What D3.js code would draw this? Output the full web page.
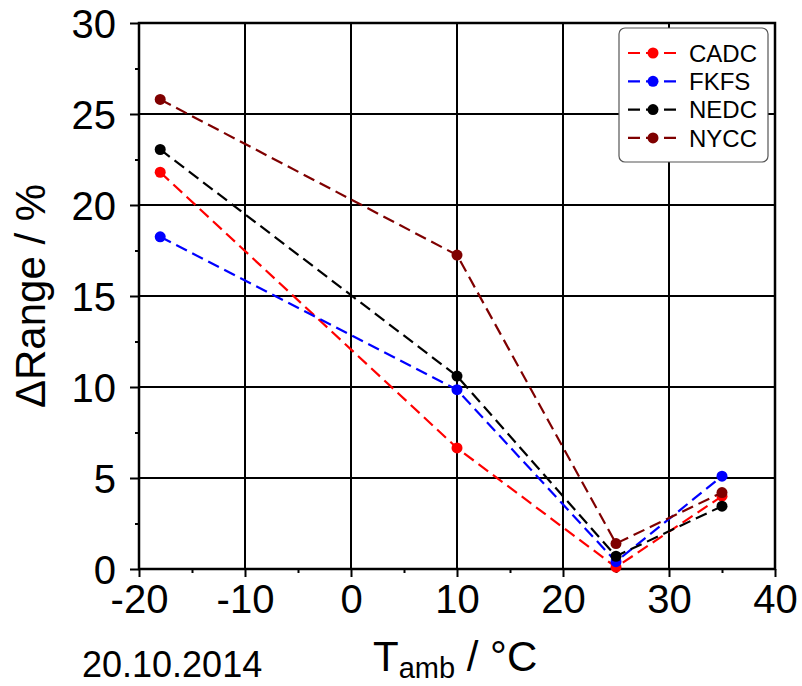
<!DOCTYPE html>
<html>
<head>
<meta charset="utf-8">
<script src="https://cdn.jsdelivr.net/npm/d3@7"></script>
<style>
  html, body { margin: 0; padding: 0; background: #fff; }
  svg { display: block; font-family: "Liberation Sans", Arial, sans-serif; }
</style>
</head>
<body>
<svg id="chart" width="802" height="686"></svg>
<script>
// Ambient temperatures of the test points (°C)
const temps = [-18, 10, 25, 35];

// Range loss per drive cycle (%)
const seriesNames = ["CADC", "FKFS", "NEDC", "NYCC"];
const cadc = [21.8, 6.65, 0.1, 4.0];
const fkfs = [18.25, 9.85, 0.4, 5.1];
const nedc = [23.05, 10.6, 0.7, 3.45];
const nycc = [25.8, 17.25, 1.4, 4.2];
const seriesColors = ["#ff0000", "#0000ff", "#000000", "#7f0000"];

// Axis ticks
const xTicks = [-20, -10, 0, 10, 20, 30, 40];
const xMinor = [-15, -5, 5, 15, 25, 35];
const yTicks = [0, 5, 10, 15, 20, 25, 30];
const yMinor = [2.5, 7.5, 12.5, 17.5, 22.5, 27.5];

const dateLabel = "20.10.2014";

const series = seriesNames.map((name, i) => ({
  name,
  color: seriesColors[i],
  values: [cadc, fkfs, nedc, nycc][i].map((v, j) => ({ t: temps[j], v }))
}));

const svg = d3.select("#chart");
const plotL = 139, plotR = 775, plotT = 23, plotB = 569;

const x = d3.scaleLinear().domain([-20, 40]).range([plotL, plotR]);
const y = d3.scaleLinear().domain([0, 30]).range([plotB, plotT]);

// Grid
const grid = svg.append("g").attr("stroke", "#000").attr("stroke-width", 2);
grid.selectAll("line.v").data(xTicks).join("line").attr("class", "v")
  .attr("x1", d => x(d)).attr("x2", d => x(d))
  .attr("y1", plotT).attr("y2", plotB);
grid.selectAll("line.h").data(yTicks).join("line").attr("class", "h")
  .attr("x1", plotL).attr("x2", plotR)
  .attr("y1", d => y(d)).attr("y2", d => y(d));

// Frame
svg.append("rect")
  .attr("x", plotL).attr("y", plotT)
  .attr("width", plotR - plotL).attr("height", plotB - plotT)
  .attr("fill", "none").attr("stroke", "#000").attr("stroke-width", 2.5);

// Axes
const xAxis = svg.append("g").attr("transform", `translate(0,${plotB})`)
  .call(d3.axisBottom(x).tickValues(xTicks).tickSize(8).tickPadding(10)
    .tickFormat(d => d < 0 ? "-" + Math.abs(d) : d));
xAxis.append("g").call(d3.axisBottom(x).tickValues(xMinor).tickSize(4).tickFormat(""));

const yAxis = svg.append("g").attr("transform", `translate(${plotL},0)`)
  .call(d3.axisLeft(y).tickValues(yTicks).tickSize(9).tickPadding(14));
yAxis.append("g").call(d3.axisLeft(y).tickValues(yMinor).tickSize(4).tickFormat(""));

svg.selectAll(".domain").remove();
svg.selectAll(".tick line").attr("stroke", "#000").attr("stroke-width", 2);
svg.selectAll(".tick text")
  .attr("fill", "#000")
  .style("font-size", "40px")
  .style("font-family", '"Liberation Sans", Arial, sans-serif');
xAxis.selectAll(".tick text").attr("dy", "0.71em").attr("y", 16);
yAxis.selectAll(".tick text").attr("dy", "0.36em");

// Series lines and markers
const line = d3.line().x(d => x(d.t)).y(d => y(d.v));
const sg = svg.append("g").selectAll("g").data(series).join("g");
sg.append("path")
  .attr("d", d => line(d.values))
  .attr("fill", "none")
  .attr("stroke", d => d.color)
  .attr("stroke-width", 2.2)
  .attr("stroke-dasharray", "12,6");
sg.selectAll("circle").data(d => d.values.map(p => ({ ...p, color: d.color }))).join("circle")
  .attr("cx", d => x(d.t)).attr("cy", d => y(d.v))
  .attr("r", 5.5).attr("fill", d => d.color);

// Legend
const lg = svg.append("g");
lg.append("rect")
  .attr("x", 619).attr("y", 28).attr("width", 149).attr("height", 134)
  .attr("rx", 6).attr("fill", "#fff").attr("stroke", "#555").attr("stroke-width", 1.2);
const items = lg.selectAll("g").data(series).join("g")
  .attr("transform", (d, i) => `translate(0,${53 + i * 28.3})`);
items.append("line")
  .attr("x1", 628).attr("x2", 677)
  .attr("stroke", d => d.color).attr("stroke-width", 2.2)
  .attr("stroke-dasharray", "12,6");
items.append("circle").attr("cx", 653).attr("r", 5.5).attr("fill", d => d.color);
items.append("text")
  .attr("x", 689).attr("y", 0).attr("dy", "0.36em")
  .style("font-size", "24px").attr("fill", "#000")
  .text(d => d.name);

// Axis titles
const xt = svg.append("text")
  .attr("x", 373).attr("y", 671)
  .style("font-size", "42px").attr("fill", "#000");
xt.append("tspan").text("T");
xt.append("tspan").attr("dy", 7).style("font-size", "29px").text("amb");
xt.append("tspan").attr("dy", -7).text(" / °C");

svg.append("text")
  .attr("transform", "translate(45,296) rotate(-90)")
  .attr("text-anchor", "middle")
  .style("font-size", "42px").attr("fill", "#000")
  .text("ΔRange / %");

svg.append("text")
  .attr("x", 82).attr("y", 677)
  .style("font-size", "36px").attr("fill", "#000")
  .text(dateLabel);
</script>
</body>
</html>
